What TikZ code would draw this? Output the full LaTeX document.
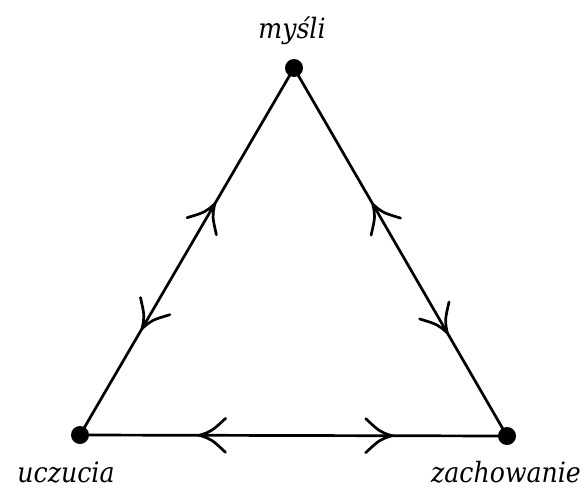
\documentclass[tikz,border=0pt]{standalone}
\usepackage{fontspec}
\newfontfamily\labelfont[FakeStretch=0.9]{DejaVu Serif}
\usetikzlibrary{decorations.markings}
\begin{document}
\begin{tikzpicture}[x=1pt,y=-1pt,
  edge/.style={line width=2.7pt},
  vertex/.style={circle,fill=black,inner sep=0pt,minimum size=18pt},
  lbl/.style={font=\labelfont\fontsize{28}{32}\selectfont\itshape,inner sep=0pt},
  barb/.style={line width=2.7pt,line cap=round},
  % open curved arrowhead whose tip sits on the path, pointing forwards (#2=1) or backwards (#2=-1)
  head/.style 2 args={postaction={decorate,decoration={markings,mark=at position #1 with {
      \draw[barb] (-26*#2,17) .. controls (-12*#2,4) .. (0,0) .. controls (-12*#2,-4) .. (-26*#2,-17);}}}}
]
\useasboundingbox (0,0) rectangle (586,492);
% the three vertices
\node[vertex] (t) at (294,68) {};
\node[vertex] (l) at (80,435) {};
\node[vertex] (r) at (507,436) {};
% labels
\node[lbl,anchor=base] (tl) at (292,39) {myśli};
\node[lbl,anchor=base] (ll) at (66,482) {uczucia};
\node[lbl,anchor=base] (rl) at (506,482) {zachowanie};
% sides with arrows in both directions
\draw[edge,head={0.63}{1},head={0.29}{-1}] (l.center) -- (t.center);
\draw[edge,head={0.37}{-1},head={0.72}{1}] (t.center) -- (r.center);
\draw[edge,head={0.28}{-1},head={0.73}{1}] (l.center) -- (r.center);
\end{tikzpicture}
\end{document}
